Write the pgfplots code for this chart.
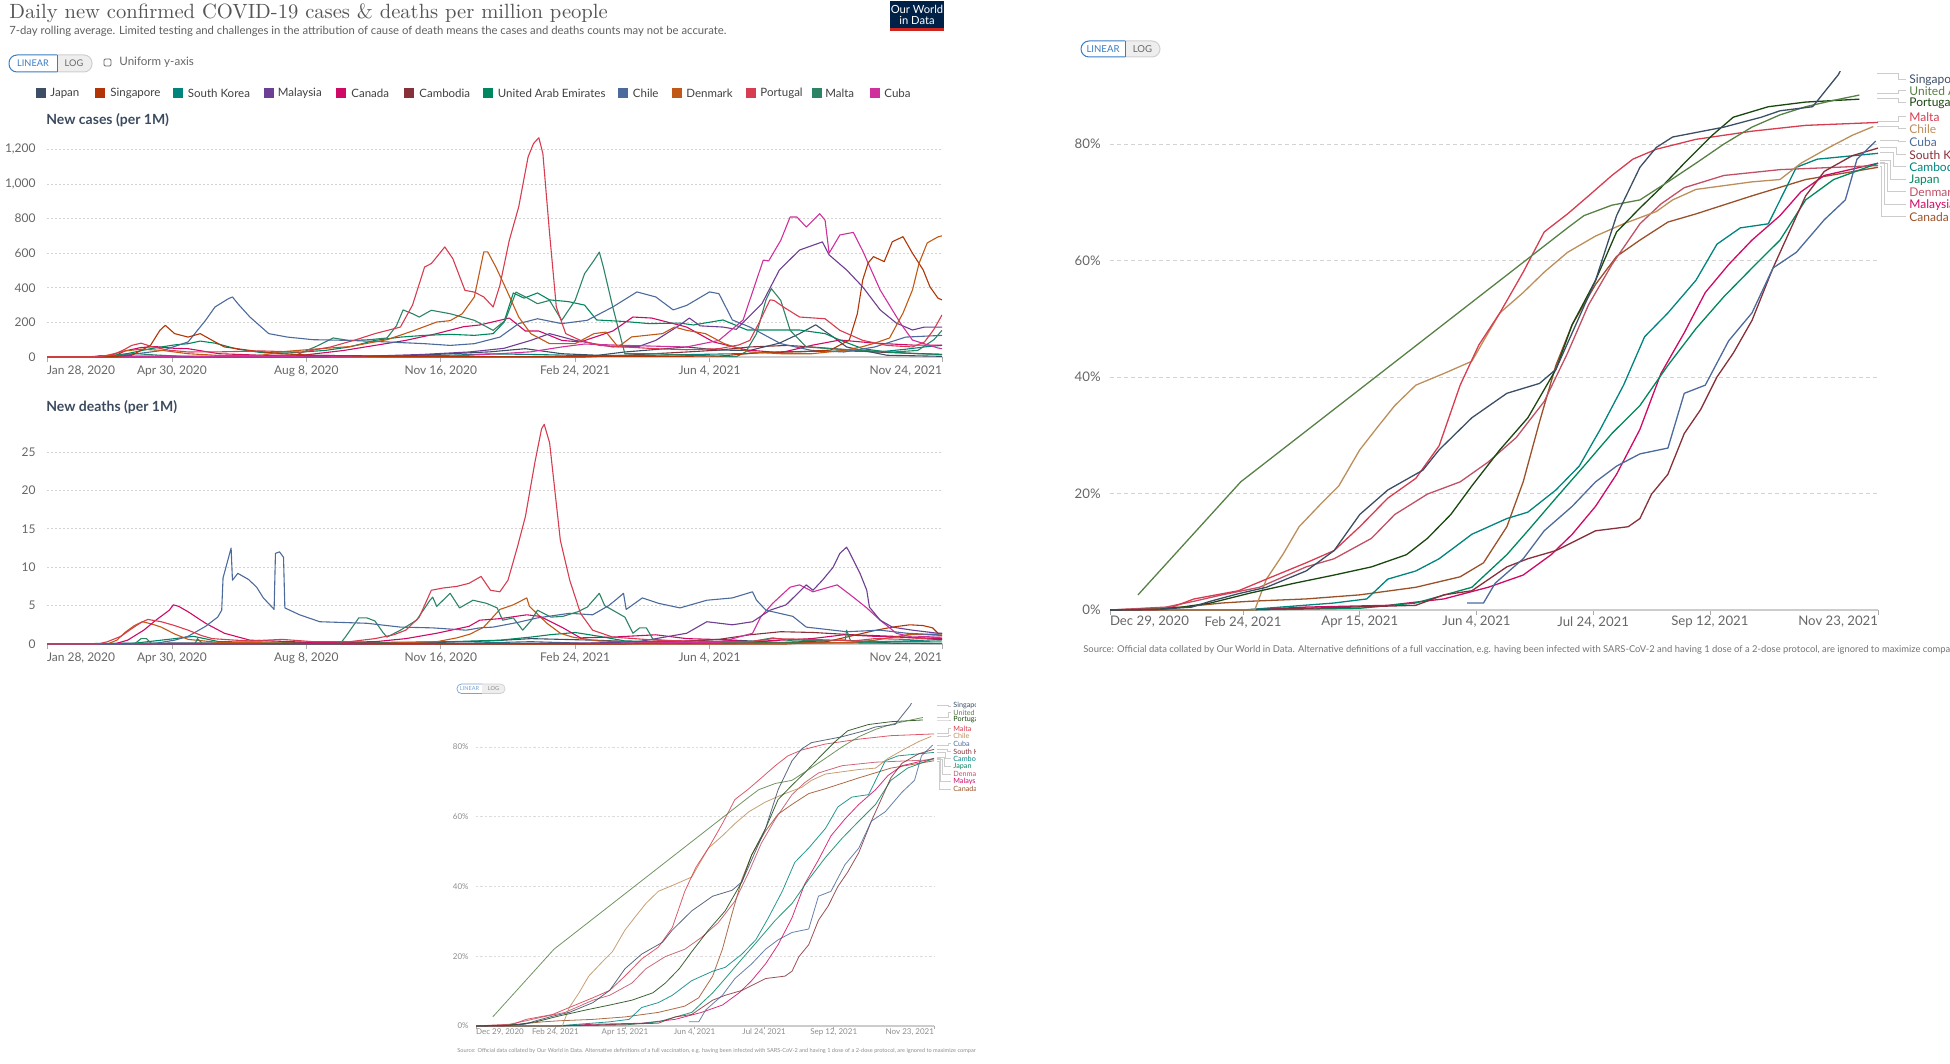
\documentclass[border=0pt]{standalone}
\usepackage{pgfplots}
\pgfplotsset{compat=1.18}
\usepackage{pgfplotstable}
\usepackage{fontspec}
\setsansfont{Lato}
\renewcommand{\familydefault}{\sfdefault}
\newcommand{\fs}[1]{\fontsize{#1}{#1}\selectfont}

% left chart colours
\definecolor{cJapan}{HTML}{3C4E66}
\definecolor{cSingapore}{HTML}{B13507}
\definecolor{cKorea}{HTML}{00847E}
\definecolor{cMalaysia}{HTML}{6D3E91}
\definecolor{cCanada}{HTML}{CF0A66}
\definecolor{cCambodia}{HTML}{883039}
\definecolor{cUAE}{HTML}{00875E}
\definecolor{cChile}{HTML}{4C6A9C}
\definecolor{cDenmark}{HTML}{C05917}
\definecolor{cPortugal}{HTML}{D73C50}
\definecolor{cMalta}{HTML}{2C8465}
\definecolor{cCuba}{HTML}{D0309C}
% vaccination chart colours
\definecolor{vSing}{HTML}{3C4E66}
\definecolor{vUAE}{HTML}{578145}
\definecolor{vPort}{HTML}{18470F}
\definecolor{vMalta}{HTML}{D73C50}
\definecolor{vChile}{HTML}{BC8E5A}
\definecolor{vCuba}{HTML}{4C6A9C}
\definecolor{vKorea}{HTML}{883039}
\definecolor{vCamb}{HTML}{00847E}
\definecolor{vJapan}{HTML}{00875E}
\definecolor{vDen}{HTML}{C15065}
\definecolor{vMal}{HTML}{CF0A66}
\definecolor{vCan}{HTML}{9A5129}
% misc
\definecolor{gridc}{HTML}{D3D3D3}
\definecolor{axc}{HTML}{CCCCCC}
\definecolor{tickline}{HTML}{AAAAAA}
\definecolor{tkc}{HTML}{666666}
\definecolor{titlec}{HTML}{555555}
\definecolor{subc}{HTML}{5E5E5E}
\definecolor{headc}{HTML}{3B4A5E}
\definecolor{pillblue}{HTML}{3B7DC4}
\definecolor{pillgrey}{HTML}{EEEEEE}
\definecolor{pillborder}{HTML}{CFCFCF}
\definecolor{logobg}{HTML}{002147}
\definecolor{logored}{HTML}{CE261E}
\definecolor{conn}{HTML}{CCCCCC}

\pgfplotstableread{
d v
0 0
20 0.1
35 0.5
43 1.5
55 2.8
67 3.9
84 6.7
96 10.2
107 16.4
119 20.6
134 24
141 27.5
155 33
170 37.2
184 38.9
191 41.3
198 47.6
208 56.6
217 67.7
227 76
234 79.4
241 81.2
263 82.9
279 84.6
287 85.7
301 86.4
312 91.9
316 95
}\vSingapore
\pgfplotstableread{
d v
12 2.6
56 22
196 65.6
203 67.7
215 69.5
227 70.4
239 73.5
251 76.7
263 80
275 82.9
287 85
298 86.4
310 87.5
321 88.4
}\vUAEt
\pgfplotstableread{
d v
0 0
20 0.1
31 0.5
43 1.2
60 2.9
79 4.6
96 6
112 7.4
127 9.5
136 12.3
146 16.4
155 21.3
167 27.5
179 33
191 41.3
198 49
208 56.6
217 64.9
227 69
236 72.5
246 76.7
258 81.5
267 84.6
282 86.4
298 87.2
321 87.7
}\vPortugal
\pgfplotstableread{
d v
0 0
15 0
24 0.1
36 1.9
55 3.3
67 5.3
84 8.1
96 10.2
107 14.3
119 19.2
131 22.6
141 28.2
150 38.6
158 45.5
167 51
177 58
186 64.9
196 68
205 71.1
215 74.6
224 77.4
234 79.1
251 80.8
275 82.2
298 83.2
329 83.7
}\vMaltat
\pgfplotstableread{
d v
0 0
62 0
67 5.3
74 9.5
81 14.3
91 18.5
98 21.3
107 27.5
115 31.6
122 35.1
131 38.6
143 40.6
155 42.7
160 46.2
167 51
177 54.5
186 58
196 61.4
208 64.2
220 66.3
234 68.4
241 70.4
251 72.2
275 73.5
287 73.9
296 76.7
308 79.4
318 81.5
327 83
}\vChilet
\pgfplotstableread{
d v
153 1.2
160 1.2
165 4.6
177 8.8
186 13.6
198 17.8
208 22
217 24.7
227 26.8
239 27.8
246 37.2
255 38.6
265 46.2
275 51
284 58.7
294 61.4
306 67
315 70.4
320 77.4
328 80.5
}\vCubat
\pgfplotstableread{
d v
0 0
57 0
131 0.8
143 2.6
155 3.3
170 7.4
179 8.8
191 10.2
198 11.6
208 13.6
222 14.3
227 15.7
232 19.9
239 23.3
246 30.3
253 34.4
260 40
267 44.1
275 49.7
284 58.7
291 64.9
298 71.1
306 75.3
318 78
329 79.3
}\vKoreat
\pgfplotstableread{
d v
0 0
57 0
96 1.2
110 1.9
119 5.3
131 6.7
141 8.8
155 13
170 15.7
179 16.8
191 20.6
201 24.7
210 31
220 38.6
229 46.9
239 51
251 56.6
260 62.8
270 65.6
282 66.3
294 76
303 77.4
329 78.4
}\vCambodiat
\pgfplotstableread{
d v
0 0
57 0
107 0.3
131 1.2
155 3.9
170 9.5
179 13.6
191 19.2
203 24.7
215 30.3
227 35.1
239 42
251 48.3
263 53.8
275 58.7
287 63.5
298 70.4
310 73.9
329 76.7
}\vJapant
\pgfplotstableread{
d v
0 0
24 0.5
36 1.5
48 2.6
64 3.9
84 7.4
96 8.8
112 12.3
122 16.4
136 19.9
150 22
162 25.4
174 29.6
186 35.8
196 44.1
205 52.4
215 59.3
227 66.3
236 69.7
246 72.5
263 74.6
287 75.6
329 76.3
}\vDenmarkt
\pgfplotstableread{
d v
0 0
57 0
84 0.5
119 0.8
143 1.9
162 3.9
177 6
189 9.5
198 13
208 17.8
217 23.3
227 31
236 40.6
246 47.6
255 54.5
265 59.3
275 63.5
287 67.7
296 71.8
306 74.6
329 76.7
}\vMalaysiat
\pgfplotstableread{
d v
0 0
31 0.5
48 1.2
60 1.5
84 1.9
107 2.6
131 3.9
150 5.7
160 8.1
170 14.3
177 22
184 32.3
191 42
198 49
208 55.9
217 60.7
227 63.5
239 66.6
251 68
275 71.1
298 73.9
329 76
}\vCanadat

\pgfplotsset{
  owidbase/.style={
    scale only axis, anchor=south west, clip=true,
    axis x line*=bottom, axis y line*=left,
    x axis line style={-, draw=axc, line width=0.9pt},
    y axis line style={draw=none},
    ytick style={draw=none},
    xtick style={draw=tickline, line width=0.4pt},
    tick align=outside, major tick length=2.5pt,
    ymajorgrids,
    tick label style={text=tkc, inner sep=0pt},
    xticklabel style={anchor=north, yshift=-1.7pt},
    yticklabel style={anchor=east, xshift=-3pt},
    every axis plot/.append style={line join=round, mark=none},
    no markers,
    /pgf/number format/assume math mode=true,
  },
  vacc/.style={
    xmin=0, xmax=329, ymin=0, ymax=92.5,
    ytick={0,20,40,60,80}, yticklabels={0\%,20\%,40\%,60\%,80\%},
    xtick={0,57,107,157,207,257,329},
    xticklabels={{\makebox[0pt][l]{Dec 29, 2020}},{Feb 24, 2021},{Apr 15, 2021},{Jun 4, 2021},{Jul 24, 2021},{Sep 12, 2021},{\makebox[0pt][r]{Nov 23, 2021}}},
  },
  tlx/.style={
    xmin=0, xmax=666,
    xtick={0,93,193,293,393,493,666},
    xticklabels={{\makebox[0pt][l]{Jan 28, 2020}},{Apr 30, 2020},{Aug 8, 2020},{Nov 16, 2020},{Feb 24, 2021},{Jun 4, 2021},{\makebox[0pt][r]{Nov 24, 2021}}},
    major grid style={draw=gridc, line width=0.4pt, dash pattern=on 0.8pt off 1.2pt},
    tick label style={font=\fs{6}},
    every axis plot/.append style={line width=0.55pt},
  },
}

\newcommand{\vaccplots}[1]{%
  \addplot[vCan, line width=#1] table[x=d,y=v]{\vCanadat};
  \addplot[vMal, line width=#1] table[x=d,y=v]{\vMalaysiat};
  \addplot[vDen, line width=#1] table[x=d,y=v]{\vDenmarkt};
  \addplot[vJapan, line width=#1] table[x=d,y=v]{\vJapant};
  \addplot[vCamb, line width=#1] table[x=d,y=v]{\vCambodiat};
  \addplot[vKorea, line width=#1] table[x=d,y=v]{\vKoreat};
  \addplot[vCuba, line width=#1] table[x=d,y=v]{\vCubat};
  \addplot[vChile, line width=#1] table[x=d,y=v]{\vChilet};
  \addplot[vMalta, line width=#1] table[x=d,y=v]{\vMaltat};
  \addplot[vPort, line width=#1] table[x=d,y=v]{\vPortugal};
  \addplot[vUAE, line width=#1] table[x=d,y=v]{\vUAEt};
  \addplot[vSing, line width=#1] table[x=d,y=v]{\vSingapore};
}

\begin{document}
\begin{tikzpicture}
\path[use as bounding box] (0,0) rectangle (975pt,-532pt);

\begin{scope}[x=0.5pt,y=-0.5pt]
% ---------- header ----------
\node[anchor=base west, inner sep=0pt, text=titlec] at (9,18.5) {\rmfamily\fs{10.3}Daily new confirmed COVID-19 cases \& deaths per million people};
\node[anchor=base west, inner sep=0pt, text=subc] at (9,34.3) {\fs{5.65}7-day rolling average. Limited testing and challenges in the attribution of cause of death means the cases and deaths counts may not be accurate.};
% logo
\fill[logobg] (890,1) rectangle (944,31);
\fill[logored] (890,28) rectangle (944,31);
\node[inner sep=0pt, text=white] at (917,9.5) {\fs{5.6}Our World};
\node[inner sep=0pt, text=white] at (917,20) {\fs{5.6}in Data};
% pill
\begin{scope}\clip (0,50) rectangle (57,80);
\draw[draw=pillblue, fill=white, line width=0.5pt, rounded corners=4pt] (9,55) rectangle (80,72);
\end{scope}
\begin{scope}\clip (57,50) rectangle (100,80);
\draw[draw=pillborder, fill=pillgrey, line width=0.5pt, rounded corners=4pt] (30,55) rectangle (92,72);
\end{scope}
\draw[pillblue, line width=0.5pt] (57,55) -- (57,72);
\node[inner sep=0pt, text=pillblue] at (33,63.5) {\fs{4.6}LINEAR};
\node[inner sep=0pt, text=tkc] at (74,63.5) {\fs{4.6}LOG};
\draw[draw=tkc, line width=0.4pt, rounded corners=0.6pt] (104,59) rectangle (111,66);
\node[anchor=west, inner sep=0pt, text=tkc] at (119,62.5) {\fs{5.8}Uniform y-axis};
% legend
\foreach \c/\sx/\tx/\lab in {cJapan/36/50/Japan, cSingapore/95/110/Singapore, cKorea/173/187.5/South Korea, cMalaysia/264/277.5/Malaysia, cCanada/336/351/Canada, cCambodia/404/419/Cambodia, cUAE/483/497.5/United Arab Emirates, cChile/618/632.5/Chile, cDenmark/672/686/Denmark, cPortugal/746/760/Portugal, cMalta/812/825/Malta, cCuba/870/884/Cuba}{
  \fill[\c] (\sx,88) rectangle ++(10,10);
  \node[anchor=west, inner sep=0pt, text=black!75] at (\tx,93) {\fs{5.75}\lab};
}
\node[anchor=base west, inner sep=0pt, text=headc] at (46,125) {\bfseries\fs{7}New cases (per 1M)};
\node[anchor=base west, inner sep=0pt, text=headc] at (46,411.5) {\bfseries\fs{7}New deaths (per 1M)};

% ---------- right chart decorations ----------
\begin{scope}\clip (1070,36) rectangle (1125,62);
\draw[draw=pillblue, fill=white, line width=0.5pt, rounded corners=4pt] (1081,41) rectangle (1150,57);
\end{scope}
\begin{scope}\clip (1125,36) rectangle (1170,62);
\draw[draw=pillborder, fill=pillgrey, line width=0.5pt, rounded corners=4pt] (1100,41) rectangle (1160,57);
\end{scope}
\draw[pillblue, line width=0.5pt] (1125,41) -- (1125,57);
\node[inner sep=0pt, text=pillblue] at (1103,49) {\fs{4.8}LINEAR};
\node[inner sep=0pt, text=tkc] at (1142.5,49) {\fs{4.8}LOG};
\node[anchor=base west, inner sep=0pt, text=black!55] at (1083,652) {\fs{4.7}Source: Official data collated by Our World in Data. Alternative definitions of a full vaccination, e.g. having been infected with SARS-CoV-2 and having 1 dose of a 2-dose protocol, are ignored to maximize comparability between countries.};
% connectors and labels
\foreach \sx/\sy/\ex/\ly/\c/\lab in {
 1877/74/1898/80/vSing/Singapore,
 1877/94/1898/91/vUAE/United Arab Emirates,
 1877/99/1898/103/vPort/Portugal,
 1877/122/1898/117/vMalta/Malta,
 1877/126.5/1898/129/vChile/Chile,
 1880/141/1898/142/vCuba/Cuba,
 1880/148/1896/155/vKorea/South Korea,
 1880/153/1893/167/vCamb/Cambodia,
 1880/161/1890/180/vJapan/Japan,
 1880/164/1887/192/vDen/Denmark,
 1880/163/1884/205/vMal/Malaysia,
 1880/167/1881/217/vCan/Canada}{
  \draw[conn, line width=0.5pt] (\sx,\sy) -- (\ex,\sy) -- (\ex,\ly) -- (1906,\ly);
  \node[anchor=west, inner sep=0pt, text=\c] at (1909,\ly) {\fs{6}\lab};
}

% ---------- bottom chart decorations ----------
\begin{scope}\clip (450,680) rectangle (482,700);
\draw[draw=pillblue!70, fill=white, line width=0.35pt, rounded corners=2.2pt] (457,684) rectangle (495,693.5);
\end{scope}
\begin{scope}\clip (482,680) rectangle (510,700);
\draw[draw=pillborder, fill=pillgrey, line width=0.35pt, rounded corners=2.2pt] (470,684) rectangle (505,693.5);
\end{scope}
\node[inner sep=0pt, text=pillblue!70] at (469.5,688.8) {\fs{2.8}LINEAR};
\node[inner sep=0pt, text=black!45] at (493.5,688.8) {\fs{2.8}LOG};
\begin{scope}
\clip (440,690) rectangle (975,1064);
\node[anchor=base west, inner sep=0pt, text=black!45] at (457,1052) {\fs{2.8}Source: Official data collated by Our World in Data. Alternative definitions of a full vaccination, e.g. having been infected with SARS-CoV-2 and having 1 dose of a 2-dose protocol, are ignored to maximize comparability between countries.};
\foreach \sy/\ex/\ly/\c/\lab in {
 705/948/706/vSing/Singapore,
 717/948/712.7/vUAE/United Arab Emirates,
 720/948/720/vPort/Portugal,
 733.7/948/728.5/vMalta/Malta,
 736.4/948/735.7/vChile/Chile,
 745/948/743.6/vCuba/Cuba,
 749.5/947/751.5/vKorea/South Korea,
 752.5/945/758.8/vCamb/Cambodia,
 757/944/766.7/vJapan/Japan,
 759/942/774/vDen/Denmark,
 758.5/940/781.8/vMal/Malaysia,
 761/939/789/vCan/Canada}{
  \draw[conn, line width=0.35pt] (937,\sy) -- (\ex,\sy) -- (\ex,\ly) -- (951,\ly);
  \node[anchor=west, inner sep=0pt, text=\c] at (953,\ly) {\fs{3.6}\lab};
}
\end{scope}
\end{scope}

% ================= CASES =================
\begin{axis}[owidbase, tlx,
  at={(23.5pt,-178.5pt)}, width=447.5pt, height=112.5pt,
  ymin=0, ymax=1300,
  ytick={0,200,...,1200}, yticklabels={0,200,400,600,800,{1,000},{1,200}},
]
\addplot[cCambodia] coordinates {(0,0)(400,0)(430,10)(476,29)(500,40)(523,58)(551,67)(569,58)(616,29)(666,15)};
\addplot[cKorea] coordinates {(0,0)(25,0)(35,3)(40,8)(50,2)(100,1)(200,1)(230,3)(290,8)(330,18)(360,15)(400,8)(450,10)(520,20)(546,30)(593,35)(620,30)(639,45)(655,60)(666,67)};
\addplot[cJapan] coordinates {(0,0)(60,2)(90,5)(110,2)(170,5)(190,10)(220,8)(260,5)(290,15)(330,30)(356,48)(383,19)(410,10)(430,29)(476,58)(500,40)(523,38)(545,80)(560,135)(572,186)(585,116)(595,58)(607,38)(625,10)(666,4)};
\addplot[cCanada] coordinates {(0,0)(40,0)(50,5)(58,35)(70,55)(81,60)(95,50)(105,48)(128,19)(160,10)(190,10)(221,38)(244,67)(267,96)(290,135)(310,175)(322,185)(344,225)(356,150)(366,150)(383,96)(397,87)(421,150)(436,231)(450,225)(476,173)(496,87)(521,40)(546,25)(570,69)(590,98)(616,80)(644,69)(666,69)};
\addplot[cUAE] coordinates {(0,0)(30,0)(45,5)(60,20)(77,48)(95,70)(105,77)(114,92)(125,80)(142,45)(160,25)(179,23)(207,38)(225,58)(244,96)(263,115)(281,125)(300,131)(318,125)(332,135)(340,200)(347,370)(355,340)(365,370)(374,330)(388,320)(400,300)(409,214)(430,205)(448,193)(471,196)(481,185)(503,214)(521,156)(560,156)(579,135)(590,98)(607,48)(625,29)(648,19)(666,15)};
\addplot[cMalta] coordinates {(0,0)(40,0)(50,8)(65,20)(80,12)(100,4)(150,2)(185,10)(200,60)(213,110)(225,95)(240,100)(253,110)(260,180)(265,272)(272,250)(277,231)(286,270)(300,250)(318,212)(332,154)(341,212)(349,375)(356,347)(365,308)(374,327)(383,212)(393,327)(400,481)(407,558)(411,606)(414,520)(421,289)(430,19)(453,19)(476,10)(513,2)(520,30)(528,135)(535,330)(539,395)(546,327)(553,154)(565,58)(583,48)(607,38)(630,29)(648,38)(660,100)(666,154)};
\addplot[cChile] coordinates {(0,0)(35,0)(45,3)(58,10)(86,38)(105,87)(118,212)(125,289)(135,337)(138,347)(142,308)(151,231)(165,135)(179,115)(198,100)(225,96)(253,87)(281,77)(300,67)(318,77)(337,115)(351,193)(365,221)(383,193)(402,212)(421,289)(439,376)(453,347)(466,272)(476,298)(493,376)(500,366)(510,214)(523,173)(546,77)(569,38)(593,29)(616,58)(639,115)(666,125)};
\addplot[cMalaysia] coordinates {(0,0)(40,0)(50,2)(70,5)(100,2)(200,1)(240,5)(280,15)(314,29)(340,50)(360,96)(374,135)(393,96)(421,58)(440,60)(453,96)(470,180)(478,225)(486,180)(503,173)(513,160)(532,308)(545,503)(560,618)(577,665)(582,590)(595,503)(607,405)(620,272)(632,196)(644,156)(653,173)(666,173)};
\addplot[cCuba] coordinates {(0,0)(50,0)(60,3)(100,5)(150,3)(200,5)(250,3)(300,5)(337,19)(360,30)(383,58)(400,75)(430,67)(476,58)(500,96)(518,214)(528,445)(533,560)(537,555)(546,674)(553,809)(558,809)(565,751)(575,828)(579,790)(582,600)(590,705)(600,720)(607,613)(620,387)(635,196)(644,98)(663,52)(666,48)};
\addplot[cSingapore] coordinates {(0,0)(20,1)(50,3)(63,10)(77,67)(84,154)(88,183)(95,135)(105,115)(114,135)(123,96)(132,58)(151,38)(174,19)(198,10)(250,3)(300,2)(400,3)(500,5)(530,25)(560,30)(583,40)(597,98)(603,250)(607,445)(611,543)(615,580)(623,551)(629,666)(637,695)(644,600)(652,503)(657,406)(663,340)(666,330)};
\addplot[cDenmark] coordinates {(0,0)(35,0)(45,10)(58,35)(70,45)(86,38)(105,19)(130,8)(160,10)(174,30)(198,45)(225,60)(253,100)(272,150)(290,202)(300,210)(309,250)(318,347)(325,607)(328,607)(334,520)(341,404)(351,231)(360,135)(374,77)(393,77)(407,135)(416,144)(425,58)(435,116)(458,135)(467,173)(476,154)(490,135)(504,77)(523,29)(546,19)(569,19)(593,38)(607,60)(616,80)(627,110)(637,254)(644,387)(649,543)(655,659)(663,694)(666,700)};
\addplot[cPortugal] coordinates {(0,0)(30,0)(40,3)(50,15)(58,45)(63,67)(70,80)(78,60)(90,40)(105,29)(130,30)(160,35)(190,28)(211,58)(230,100)(244,135)(263,173)(272,300)(281,520)(286,540)(290,578)(296,636)(302,568)(311,385)(318,375)(325,347)(332,289)(337,414)(344,674)(351,867)(358,1156)(362,1233)(366,1267)(369,1175)(374,713)(379,289)(386,135)(397,96)(411,67)(430,58)(453,48)(476,42)(500,48)(515,70)(523,96)(530,200)(538,330)(541,327)(548,289)(560,231)(579,221)(590,154)(607,96)(625,67)(644,58)(653,87)(660,160)(666,243)};
\end{axis}

% ================= DEATHS =================
\begin{axis}[owidbase, tlx,
  at={(23.5pt,-322pt)}, width=447.5pt, height=115.2pt,
  ymin=0, ymax=30,
  ytick={0,5,...,25},
]
\addplot[cKorea] coordinates {(0,0)(60,0.1)(100,0.05)(300,0.05)(360,0.3)(400,0.1)(500,0.05)(600,0.2)(640,0.4)(666,0.6)};
\addplot[cJapan] coordinates {(0,0)(80,0.1)(100,0.15)(200,0.05)(250,0.1)(290,0.2)(330,0.4)(360,0.7)(407,0.5)(453,0.2)(476,0.4)(500,0.6)(546,0.2)(593,0.5)(630,0.1)(666,0.05)};
\addplot[cCambodia] coordinates {(0,0)(430,0)(470,0.3)(500,0.6)(523,1.2)(546,1.6)(570,1.5)(600,1.2)(630,1)(666,0.6)};
\addplot[cUAE] coordinates {(0,0)(60,0)(80,0.4)(95,0.7)(109,1)(120,0.6)(128,0.3)(200,0.2)(244,0.2)(300,0.3)(337,0.5)(360,0.9)(374,1.2)(393,1.5)(411,1)(430,0.4)(500,0.2)(666,0.1)};
\addplot[cSingapore] coordinates {(0,0)(550,0)(580,0.3)(595,0.9)(617,1.8)(629,2.2)(642,2.5)(652,2.4)(659,2.1)(663,1.4)(666,1.3)};
\addplot[cDenmark] coordinates {(0,0)(45,0)(52,0.5)(58,1.5)(65,2.4)(71,2.9)(78,2.6)(85,2.2)(95,1.3)(105,0.6)(128,0.2)(200,0.1)(250,0.1)(290,0.3)(305,0.8)(315,1.3)(325,2.2)(337,4.5)(347,5.1)(357,6)(359,4.9)(372,2.7)(382,1.4)(391,0.9)(410,0.4)(450,0.2)(550,0.1)(600,0.2)(616,0.5)(640,1.2)(666,1.3)};
\addplot[cCanada] coordinates {(0,0)(50,0)(60,0.5)(72,1.8)(81,3.1)(91,4.4)(94,5.1)(98,4.9)(105,4.2)(118,2.7)(132,1.4)(151,0.5)(198,0.2)(244,0.3)(267,0.7)(290,1.4)(314,2.3)(322,3.1)(337,3.3)(357,3.8)(367,3.6)(384,2.1)(397,0.8)(421,0.9)(453,1.2)(476,0.7)(496,0.6)(523,0.3)(569,0.7)(593,1.2)(616,1)(666,0.7)};
\addplot[cMalta] coordinates {(0,0)(65,0)(70,0.7)(74,0.7)(78,0)(110,0)(112,0.7)(116,0)(218,0)(222,0.9)(232,3.4)(238,3.4)(244,3)(250,1.5)(253,0.9)(263,1.8)(275,3.1)(285,5.7)(287,6.1)(290,4.9)(300,6.6)(307,4.7)(317,5.7)(327,5.3)(335,4.7)(339,3.1)(347,3.4)(354,1.8)(360,3)(365,4.4)(375,3.5)(384,3.6)(395,4.2)(402,4.8)(411,6.6)(415,5)(421,4.4)(430,3.5)(436,1.4)(441,2.1)(446,2.1)(451,0.6)(480,0.2)(520,0.2)(540,0.8)(555,0.4)(594,0.5)(595,1.8)(598,0.4)(640,0.3)(666,0.4)};
\addplot[cCuba] coordinates {(0,0)(400,0.1)(500,0.2)(525,1.4)(531,3.5)(540,5.3)(553,7.4)(560,7.7)(570,6.8)(588,7.7)(600,6.1)(610,4.7)(620,3.1)(632,1.4)(644,0.9)(666,1.1)};
\addplot[cMalaysia] coordinates {(0,0)(300,0.05)(400,0.1)(440,0.3)(476,1.4)(491,2.9)(510,2.5)(525,2.9)(538,4.4)(550,5.1)(565,7.7)(570,7)(577,8.3)(585,10)(590,11.8)(595,12.6)(597,12)(605,9.2)(610,7)(612,4.8)(620,3.1)(629,2.2)(644,1.8)(663,1.4)(666,1.4)};
\addplot[cChile] coordinates {(0,0)(60,0)(81,0.1)(95,0.5)(105,1)(118,2.3)(127,3.5)(130,4.4)(131,8.6)(137,12.5)(138,8.3)(142,9.2)(150,8.4)(156,7.4)(161,6)(168,4.7)(169,4.5)(170,11.8)(173,12)(176,11.3)(177,4.7)(188,3.8)(203,2.9)(238,2.7)(263,2.2)(287,2.1)(312,1.8)(322,2.1)(332,2.2)(350,2.8)(365,3.4)(389,4)(406,3.8)(418,5)(425,6)(429,6.6)(431,4.5)(443,6)(455,5.3)(471,4.7)(491,5.7)(510,6)(525,6.8)(528,5.7)(535,4.4)(555,3.6)(565,2.2)(595,1.6)(620,1.8)(640,1.4)(663,1.2)(666,1.1)};
\addplot[cPortugal] coordinates {(0,0)(38,0)(45,0.3)(55,1)(63,2)(70,2.8)(75,3.2)(85,2.9)(95,2.4)(105,1.8)(115,1.1)(123,0.7)(140,0.5)(151,0.4)(175,0.6)(198,0.3)(225,0.3)(244,0.7)(258,1.2)(267,1.8)(277,3.5)(286,7)(295,7.3)(305,7.5)(314,7.9)(323,8.8)(330,7)(337,6.8)(343,8.3)(350,12.6)(356,16.6)(363,23.6)(368,28)(370,28.6)(374,26.2)(382,13.5)(389,8.3)(397,4)(406,1.8)(421,0.9)(453,0.5)(500,0.3)(523,0.3)(540,0.7)(569,0.6)(600,0.4)(616,0.7)(640,0.6)(666,0.9)};
\end{axis}

% ================= VACCINATION (right) =================
\begin{axis}[owidbase, vacc,
  at={(555pt,-305pt)}, width=384pt, height=269.4pt,
  major grid style={draw=gridc, line width=0.4pt, dash pattern=on 2pt off 1.5pt},
  tick label style={font=\fs{6.6}},
  yticklabel style={xshift=1pt},
  xticklabel style={yshift=1.2pt},
]
\vaccplots{0.65pt}
\end{axis}

% ================= VACCINATION (bottom, small copy) =================
\begin{axis}[owidbase, vacc,
  at={(238pt,-513pt)}, width=229pt, height=161.4pt,
  major grid style={draw=gridc!80, line width=0.3pt, dash pattern=on 1.2pt off 1pt},
  x axis line style={-, draw=axc, line width=0.6pt},
  xtick style={draw=tickline, line width=0.3pt},
  major tick length=1.5pt,
  tick label style={font=\fs{4}, text=black!45},
  yticklabel style={xshift=1pt},
  xticklabel style={yshift=2.2pt},
  every axis plot/.append style={opacity=0.85},
]
\vaccplots{0.4pt}
\end{axis}
\end{tikzpicture}
\end{document}
